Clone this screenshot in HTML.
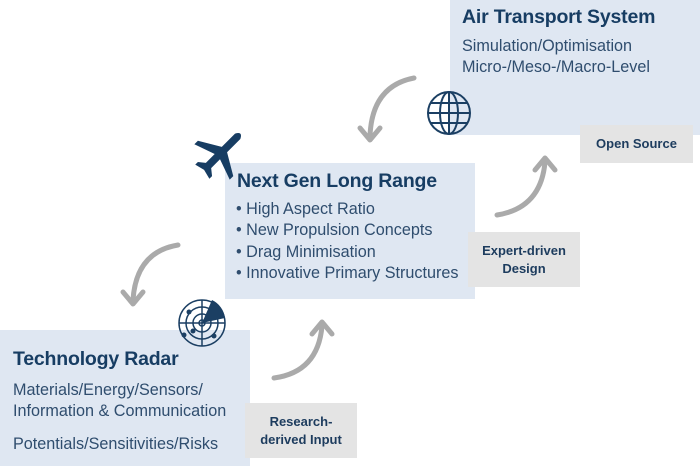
<!DOCTYPE html>
<html><head><meta charset="utf-8"><style>
body{margin:0;width:700px;height:466px;background:#fff;position:relative;overflow:hidden;font-family:"Liberation Sans",sans-serif;}
.b{position:absolute;background:#dfe7f2;}
.g{position:absolute;background:#e4e4e4;color:#1d3c5e;font-weight:bold;font-size:13px;text-align:center;line-height:18px;display:flex;align-items:center;justify-content:center;}
.h{position:absolute;color:#173d63;font-weight:bold;font-size:19.5px;white-space:nowrap;letter-spacing:-0.2px}
.t{position:absolute;color:#2f4d6e;font-size:16.2px;line-height:21.3px;white-space:nowrap;}
svg{position:absolute;left:0;top:0}
</style></head><body>
<div class="b" style="left:450px;top:0;width:250px;height:135px"></div>
<div class="b" style="left:225px;top:163px;width:250px;height:136px"></div>
<div class="b" style="left:0;top:330px;width:250px;height:136px"></div>
<div class="g" style="left:580px;top:125px;width:113px;height:38px">Open Source</div>
<div class="g" style="left:468px;top:232px;width:112px;height:55px">Expert-driven<br>Design</div>
<div class="g" style="left:245px;top:403px;width:112px;height:55px">Research-<br>derived Input</div>
<div class="h" style="left:462px;top:6px">Air Transport System</div>
<div class="t" style="left:462px;top:36px">Simulation/Optimisation<br>Micro-/Meso-/Macro-Level</div>
<div class="h" style="left:237px;top:170px">Next Gen Long Range</div>
<div class="t" style="left:236px;top:199px">• High Aspect Ratio<br>• New Propulsion Concepts<br>• Drag Minimisation<br>• Innovative Primary Structures</div>
<div class="h" style="left:13px;top:348px">Technology Radar</div>
<div class="t" style="left:13px;top:380px">Materials/Energy/Sensors/<br>Information &amp; Communication</div>
<div class="t" style="left:13px;top:434px">Potentials/Sensitivities/Risks</div>
<svg width="700" height="466">
<g fill="none" stroke="#aaa" stroke-width="5" stroke-linecap="round" stroke-linejoin="round">
<path d="M414 78 Q372 86 370 136"/><path d="M360 128 L370 140 L380 128"/>
<path d="M178 245 Q136 252 133 300"/><path d="M123 292 L133 304 L143 292"/>
<path d="M274 378 Q318 372 322 326"/><path d="M312 334 L322 322 L332 334"/>
<path d="M497 215 Q541 208 545 162"/><path d="M535 170 L545 158 L555 170"/>
</g>
<g fill="none" stroke="#1b3f63" stroke-width="2">
<circle cx="449" cy="113" r="21"/><ellipse cx="449" cy="113" rx="9" ry="21"/>
<line x1="449" y1="92" x2="449" y2="134"/><line x1="428" y1="113" x2="470" y2="113"/>
<line x1="431" y1="103" x2="467" y2="103"/><line x1="431" y1="123" x2="467" y2="123"/>
</g>
<g stroke="#1b3f63" stroke-width="1.5" fill="none">
<circle cx="202" cy="323" r="23"/><circle cx="202" cy="323" r="16"/><circle cx="202" cy="323" r="9"/><circle cx="202" cy="323" r="3"/>
<line x1="179" y1="323" x2="225" y2="323"/><line x1="202" y1="300" x2="202" y2="346"/>
</g>
<path d="M202 323 L212 300 A23 23 0 0 1 225 318 Z" fill="#1b3f63"/>
<g fill="#1b3f63"><circle cx="184" cy="335" r="2.5"/><circle cx="193" cy="331" r="2.5"/><circle cx="214" cy="336" r="2.5"/><circle cx="189" cy="312" r="2.5"/></g>
<g transform="translate(220,154) rotate(45) scale(1.25)" fill="#173d63">
<path d="M-3 -20 Q0 -26 3 -20 L3 -5 L20 5 L20 9 L3 3 L3 13 L8 17 L8 20 L0 18 L-8 20 L-8 17 L-3 13 L-3 3 L-20 9 L-20 5 L-3 -5 Z"/>
</g>
</svg>
</body></html>
